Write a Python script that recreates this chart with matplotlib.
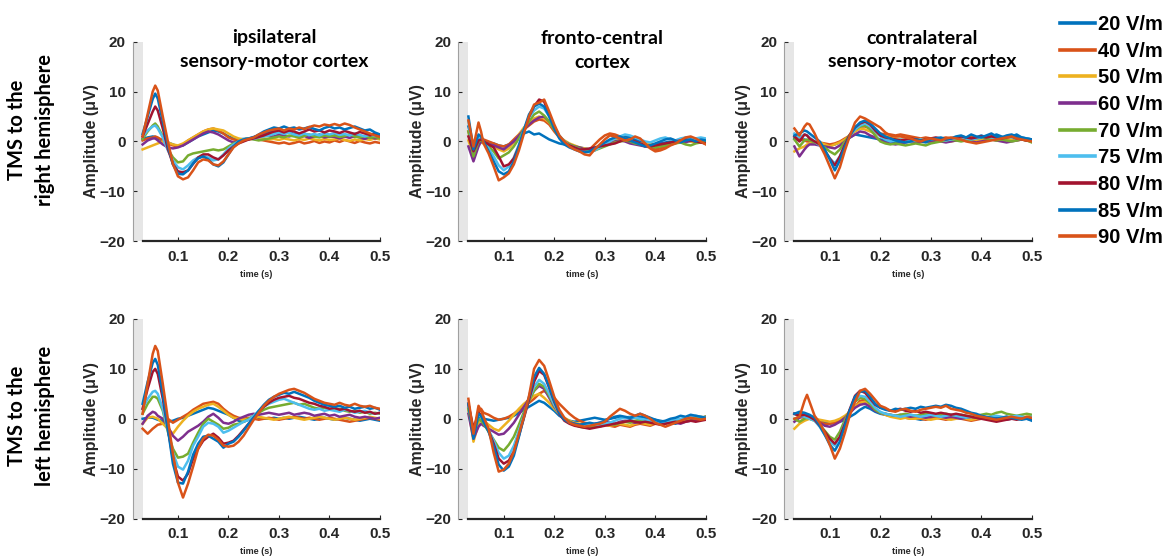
import numpy as np
import matplotlib
matplotlib.use('Agg')
import matplotlib.pyplot as plt

# time samples (s)
t = [0.03, 0.04, 0.05, 0.055, 0.06, 0.07, 0.08, 0.09, 0.10,
     0.11, 0.12, 0.13, 0.14, 0.15, 0.16, 0.17, 0.18, 0.19, 0.20,
     0.21, 0.22, 0.23, 0.24, 0.25, 0.26, 0.27, 0.28, 0.29, 0.30,
     0.31, 0.32, 0.33, 0.34, 0.35, 0.36, 0.37, 0.38, 0.39, 0.40,
     0.41, 0.42, 0.43, 0.44, 0.45, 0.46, 0.47, 0.48, 0.49, 0.50]

labels = ['20 V/m', '40 V/m', '50 V/m', '60 V/m', '70 V/m', '75 V/m', '80 V/m', '85 V/m', '90 V/m']
colors = ['#0072BD', '#D95319', '#EDB120', '#7E2F8E', '#77AC30', '#4DBEEE', '#A2142F', '#0072BD', '#D95319']

col_titles = ['ipsilateral\nsensory-motor cortex', 'fronto-central\ncortex', 'contralateral\nsensory-motor cortex']
row_titles = ['TMS to the\nright hemisphere', 'TMS to the\nleft hemisphere']

# one row per intensity, 20 ... 90 V/m (amplitude in uV)
ipsi_rh = [
    [0.5, 0.8, 1.0, 0.9, 0.6, 0.2, -0.2, -0.6, -1.0, -0.8, -0.2, 0.4, 1.0, 1.4, 1.8, 2.2, 2.0, 1.6, 1.0,
     0.6, 0.4, 0.5, 0.6, 0.9, 1.2, 1.5, 1.8, 2.0, 1.8, 1.6, 1.9, 1.5, 1.3, 1.6, 1.2, 1.0, 1.4, 1.1, 0.9,
     1.2, 1.5, 1.0, 1.3, 0.9, 1.2, 0.8, 1.1, 0.7, 0.9],
    [0.2, 0.6, 0.8, 1.0, 0.8, 0.2, -0.4, -0.8, -1.0, -0.6, 0.2, 0.8, 1.4, 2.0, 2.4, 2.6, 2.2, 1.6, 0.8,
     0.4, 0.2, 0.4, 0.6, 0.5, 0.4, 0.2, 0.0, -0.2, -0.4, -0.2, -0.5, -0.3, 0.0, -0.4, -0.2, 0.1, -0.3, 0.0, -0.2,
     0.2, -0.1, 0.3, 0.0, -0.3, 0.1, -0.2, -0.4, -0.1, -0.3],
    [-1.6, -1.2, -0.8, -0.6, -0.4, 0.0, -0.2, -0.6, -0.8, -0.4, 0.2, 0.8, 1.4, 2.0, 2.4, 2.6, 2.4, 2.2, 1.6,
     1.0, 0.6, 0.4, 0.4, 0.6, 0.8, 0.6, 0.4, 0.5, 0.3, 0.6, 0.4, 0.2, 0.5, 0.3, 0.6, 0.4, 0.2, 0.5, 0.3,
     0.4, 0.6, 0.3, 0.1, 0.4, 0.2, 0.5, 0.3, 0.6, 0.4],
    [-0.6, 0.2, 0.6, 0.6, 0.2, -0.6, -1.2, -1.4, -1.2, -0.8, -0.2, 0.4, 1.0, 1.6, 2.0, 1.8, 1.4, 0.8, 0.2,
     -0.2, 0.0, 0.2, 0.4, 0.8, 1.2, 1.4, 1.2, 1.0, 1.4, 1.2, 1.0, 1.3, 0.8, 1.1, 0.7, 1.0, 1.2, 0.8, 1.0,
     0.9, 0.6, 1.0, 0.7, 1.1, 0.8, 0.5, 0.9, 0.6, 0.8],
    [0.5, 2.0, 3.2, 3.6, 3.0, 1.0, -1.5, -3.2, -4.2, -4.0, -2.8, -2.4, -2.2, -2.0, -1.8, -1.6, -1.8, -1.6, -1.0,
     -0.4, 0.0, 0.4, 0.6, 0.4, 0.2, 0.4, 0.6, 0.8, 1.0, 0.8, 1.2, 1.0, 0.8, 1.1, 1.4, 1.0, 0.8, 1.2, 1.0,
     1.2, 0.9, 1.1, 1.4, 1.0, 0.8, 1.1, 0.7, 0.9, 0.6],
    [1.0, 2.2, 3.0, 3.2, 2.6, 0.8, -1.8, -3.8, -5.2, -5.6, -4.8, -3.8, -3.2, -3.0, -3.2, -3.8, -3.6, -2.6, -1.4,
     -0.6, 0.0, 0.4, 0.6, 0.5, 0.8, 1.0, 1.2, 1.5, 1.8, 1.5, 1.8, 1.4, 1.2, 1.6, 1.3, 1.5, 1.2, 1.6, 1.4,
     1.7, 1.3, 1.5, 1.2, 1.6, 1.3, 1.0, 1.4, 1.1, 1.3],
    [1.0, 3.5, 6.0, 7.0, 6.2, 2.6, -1.5, -4.5, -6.0, -6.2, -5.8, -4.5, -3.2, -2.6, -2.6, -3.2, -3.6, -2.8, -1.8,
     -1.0, -0.4, 0.0, 0.4, 0.6, 0.9, 1.2, 1.6, 2.0, 2.2, 1.8, 2.2, 2.0, 1.6, 2.0, 2.4, 2.0, 2.2, 1.8, 2.2,
     2.0, 1.7, 2.1, 1.8, 1.5, 1.9, 1.6, 1.3, 1.6, 1.2],
    [1.5, 5.0, 8.5, 9.6, 8.6, 4.0, -0.8, -4.6, -6.5, -6.6, -5.8, -4.4, -3.4, -3.0, -3.6, -4.6, -5.0, -4.2, -2.6,
     -1.0, 0.0, 0.4, 0.6, 0.8, 1.4, 2.0, 2.4, 2.8, 2.6, 3.0, 2.6, 2.8, 2.4, 2.6, 2.9, 2.5, 2.2, 2.7, 3.0,
     2.6, 2.8, 2.4, 2.7, 3.0, 2.6, 2.2, 2.4, 1.8, 1.4],
    [1.0, 5.5, 10.0, 11.2, 10.2, 5.0, 0.0, -4.5, -7.0, -7.6, -7.2, -5.8, -4.2, -3.6, -3.8, -4.6, -4.8, -4.0, -2.6,
     -1.2, -0.4, 0.2, 0.5, 0.8, 1.4, 1.8, 2.2, 2.4, 2.6, 2.2, 2.6, 2.4, 2.8, 2.5, 2.9, 3.2, 3.0, 3.4, 3.2,
     3.5, 3.2, 3.6, 3.3, 2.8, 2.4, 2.0, 1.6, 1.2, 0.9],
]

fronto_rh = [
    [3.0, -0.8, 0.4, 0.2, 0.0, -0.2, -0.4, -0.8, -1.0, -0.6, 0.0, 0.8, 1.6, 2.0, 1.4, 1.6, 1.0, 0.4, 0.0,
     -0.4, -0.6, -0.8, -1.0, -1.2, -1.4, -1.6, -1.4, -1.0, -0.6, -0.2, 0.2, 0.6, 1.0, 0.8, 0.4, 0.0, -0.4, -0.8, -0.6,
     -0.4, -0.2, 0.0, 0.2, 0.4, 0.2, 0.0, 0.3, 0.1, 0.0],
    [2.0, -1.0, 1.0, 0.8, 0.4, 0.0, -0.4, -0.8, -1.0, -0.6, 0.4, 1.4, 2.4, 3.2, 4.0, 4.4, 4.2, 3.4, 2.0,
     0.8, 0.0, -0.6, -1.0, -1.4, -1.8, -1.6, -0.6, 0.4, 1.2, 1.6, 1.4, 1.0, 0.6, 0.2, -0.2, -0.6, -1.0, -1.2, -1.6,
     -1.4, -1.0, -0.6, -0.2, 0.2, 0.6, 0.8, 0.4, 0.0, -0.2],
    [0.2, -2.8, 0.0, -0.2, -0.4, -0.6, -1.0, -1.6, -2.0, -1.4, -0.2, 1.4, 2.8, 3.8, 4.6, 5.0, 4.6, 3.8, 2.4,
     1.0, 0.2, -0.4, -0.8, -1.2, -1.4, -1.6, -1.4, -1.0, -0.6, -0.2, 0.2, 0.4, 0.2, 0.0, -0.2, -0.4, -0.6, -0.4, -0.6,
     -0.8, -0.6, -0.4, -0.2, 0.0, 0.2, 0.0, -0.2, 0.0, -0.2],
    [-1.0, -4.0, -1.0, 0.0, -0.2, -0.6, -0.8, -1.2, -1.6, -0.8, 0.0, 1.2, 2.4, 3.4, 4.2, 4.8, 5.0, 4.0, 2.4,
     1.0, 0.0, -0.6, -1.0, -1.2, -1.6, -1.8, -1.6, -1.2, -0.8, -0.4, 0.0, 0.2, 0.0, -0.4, -0.6, -0.8, -1.0, -0.8, -0.6,
     -0.4, -0.6, -0.4, -0.2, 0.0, -0.2, 0.2, 0.0, -0.2, -0.4],
    [2.0, -3.0, 0.0, 0.2, -0.2, -1.0, -2.0, -3.4, -2.8, -2.2, -1.0, 0.6, 2.4, 4.0, 5.4, 6.0, 5.2, 4.0, 2.4,
     1.0, 0.0, -0.6, -1.0, -1.4, -1.8, -2.0, -1.8, -1.4, -1.0, -0.6, -0.2, 0.0, 0.2, 0.0, -0.4, -0.6, -0.8, -1.0, -1.2,
     -1.0, -0.8, -0.6, -0.4, -0.2, -0.6, -0.8, -0.4, -0.2, 0.0],
    [4.0, -2.0, 1.0, 0.6, 0.0, -1.4, -3.0, -4.8, -5.8, -5.0, -3.2, -0.6, 2.4, 4.8, 6.2, 7.0, 6.6, 5.0, 3.0,
     1.2, 0.0, -0.8, -1.2, -1.6, -2.0, -2.2, -1.8, -1.2, -0.6, 0.0, 0.6, 1.0, 1.4, 1.2, 0.8, 0.4, 0.0, -0.2, 0.2,
     0.6, 0.8, 0.4, 0.2, 0.6, 0.8, 0.4, 0.6, 0.8, 0.6],
    [1.0, -2.0, 0.2, 0.4, 0.0, -0.6, -1.2, -3.0, -5.0, -4.6, -3.4, -1.0, 2.0, 5.0, 7.0, 8.4, 8.0, 5.4, 2.8,
     1.0, -0.2, -0.8, -1.2, -1.6, -1.6, -1.4, -1.2, -1.0, -0.8, -0.6, -0.4, 0.0, 0.4, 0.2, 0.0, -0.4, -0.8, -1.0, -0.8,
     -0.6, -0.4, -0.2, 0.0, 0.2, 0.4, 0.2, 0.0, -0.2, -0.4],
    [5.0, -1.6, 1.4, 1.0, 0.0, -2.0, -4.0, -6.0, -6.6, -6.0, -4.0, -1.0, 2.4, 5.4, 7.0, 7.6, 7.0, 5.0, 2.6,
     0.6, -0.6, -1.2, -1.6, -2.0, -2.2, -2.0, -1.4, -0.8, -0.2, 0.4, 0.8, 1.0, 0.6, 0.2, -0.2, -0.6, -1.0, -0.8, -0.4,
     0.0, 0.4, 0.6, 0.2, -0.2, 0.2, 0.4, 0.0, 0.4, 0.2],
    [4.2, -1.0, 3.8, 2.0, -0.4, -2.4, -5.0, -7.8, -7.2, -6.4, -4.6, -1.8, 1.6, 5.0, 7.4, 7.8, 8.4, 6.0, 3.4,
     1.2, 0.0, -1.0, -1.6, -2.0, -2.6, -2.8, -1.6, -0.6, 0.4, 1.2, 1.0, 0.6, 0.2, 0.4, 1.0, 0.6, -0.4, -1.4, -2.0,
     -1.8, -1.4, -0.8, -0.4, 0.2, 0.8, 1.0, 0.6, 0.0, -0.6],
]

contra_rh = [
    [0.6, 0.2, 0.4, 0.2, 0.0, -0.2, -0.4, -0.6, -0.8, -0.6, -0.2, 0.2, 0.8, 1.4, 1.2, 1.0, 0.8, 0.6, 0.4,
     0.2, 0.0, -0.2, 0.0, 0.2, 0.4, 0.2, 0.0, -0.2, 0.0, 0.2, 0.4, 0.2, 0.6, 0.4, 0.8, 0.6, 1.0, 0.8, 1.2,
     0.8, 1.0, 1.4, 1.0, 0.6, 1.0, 1.4, 0.8, 0.6, 0.4],
    [1.0, 0.6, 0.2, 0.0, 0.0, -0.2, -0.2, -0.4, -0.6, -0.4, 0.0, 0.6, 1.2, 2.2, 3.0, 3.0, 2.6, 2.0, 1.6,
     1.4, 1.4, 1.2, 1.4, 1.2, 1.0, 0.8, 0.6, 0.8, 0.6, 0.4, 0.6, 0.8, 0.6, 0.4, 0.6, 0.8, 1.0, 0.8, 0.6,
     0.8, 1.0, 0.8, 0.6, 0.4, 0.6, 0.8, 0.6, 0.4, 0.2],
    [-2.0, -1.4, -1.0, -0.6, -0.4, 0.0, -0.2, -0.6, -1.0, -0.6, -0.2, 0.4, 1.2, 2.0, 2.6, 2.4, 2.0, 1.6, 1.2,
     1.0, 0.8, 0.6, 0.4, 0.2, 0.0, 0.2, 0.4, 0.2, 0.0, 0.2, 0.4, 0.2, 0.0, 0.2, 0.4, 0.6, 0.4, 0.2, 0.4,
     0.6, 0.4, 0.2, 0.4, 0.6, 0.4, 0.2, 0.4, 0.2, 0.0],
    [-1.0, -3.0, -1.6, -1.0, -0.6, -0.6, -0.8, -1.0, -1.2, -1.4, -0.8, 0.0, 0.8, 1.4, 2.0, 1.8, 1.2, 0.8, 0.2,
     -0.2, -0.4, -0.6, -0.4, -0.2, 0.0, -0.2, 0.0, 0.2, 0.0, 0.2, 0.0, -0.2, 0.0, 0.2, 0.4, 0.2, 0.0, -0.2, 0.0,
     0.2, 0.4, 0.2, 0.0, -0.2, 0.0, 0.2, 0.4, 0.2, 0.0],
    [0.4, -1.0, 0.2, 0.4, 0.2, -0.2, -0.6, -1.2, -2.0, -2.6, -1.6, 0.0, 1.4, 2.4, 3.0, 3.2, 2.4, 1.2, 0.0,
     -0.4, -0.6, -0.4, -0.6, -0.8, -0.6, -0.4, -0.6, -0.8, -0.4, -0.2, 0.0, 0.2, 0.4, 0.2, 0.0, 0.2, 0.4, 0.6, 0.8,
     0.6, 0.4, 0.2, 0.4, 0.2, 0.0, 0.2, 0.4, 0.2, -0.2],
    [1.6, 0.8, 1.4, 1.2, 0.8, 0.0, -0.8, -2.0, -3.4, -4.4, -3.0, -0.6, 1.2, 2.4, 3.2, 3.6, 3.0, 2.0, 1.0,
     0.4, 0.0, 0.2, 0.4, 0.2, 0.0, 0.2, 0.4, 0.2, 0.4, 0.6, 0.4, 0.2, 0.4, 0.6, 0.8, 0.6, 0.4, 0.6, 0.8,
     1.0, 0.8, 0.6, 0.8, 1.0, 0.8, 0.6, 0.4, 0.6, 0.4],
    [1.0, 0.0, 1.4, 1.2, 0.6, 0.0, -0.6, -1.8, -3.4, -4.8, -3.0, -0.6, 1.4, 2.8, 3.6, 4.0, 3.4, 2.2, 1.2,
     0.8, 0.6, 0.4, 0.2, 0.4, 0.6, 0.4, 0.2, 0.4, 0.6, 0.8, 0.6, 0.4, 0.6, 0.8, 1.0, 0.8, 0.6, 0.8, 1.0,
     0.8, 1.0, 0.8, 0.6, 0.8, 1.0, 0.6, 0.4, 0.2, 0.4],
    [1.2, 1.6, 2.2, 2.0, 1.6, 0.8, 0.0, -1.6, -3.6, -5.8, -3.8, -1.0, 1.2, 2.8, 3.8, 4.2, 3.6, 2.6, 1.6,
     1.0, 0.6, 0.2, 0.0, -0.2, 0.0, 0.4, 0.2, 0.0, 0.4, 0.6, 0.8, 0.4, 0.6, 1.0, 1.2, 0.8, 1.4, 1.0, 0.8,
     1.2, 1.6, 1.0, 0.8, 1.2, 1.4, 1.0, 0.8, 0.6, 0.4],
    [2.6, 1.2, 3.0, 3.6, 3.4, 1.6, -0.6, -2.6, -5.0, -7.4, -5.2, -1.8, 1.2, 3.8, 5.0, 4.6, 4.0, 3.4, 2.8,
     1.8, 1.2, 1.0, 1.0, 0.8, 0.6, 0.2, 0.0, 0.4, 0.6, 0.4, 0.2, 0.6, 0.8, 0.6, 0.4, 0.0, -0.2, -0.4, -0.2,
     0.0, 0.2, 0.4, 0.6, 0.8, 1.0, 0.6, 0.4, 0.2, 0.0],
]

ipsi_lh = [
    [0.0, 0.2, 0.2, 0.0, -0.2, -0.4, -0.6, -0.4, 0.0, 0.2, 0.6, 1.0, 1.4, 1.8, 2.2, 2.0, 1.6, 1.2, 0.8,
     0.2, -0.4, -0.6, -0.2, 0.0, 0.2, 0.0, 0.0, 0.2, 0.0, 0.2, 0.0, 0.2, 0.4, 0.2, 0.0, -0.2, 0.0, 0.2, 0.0,
     -0.2, 0.0, 0.2, 0.0, -0.2, -0.4, -0.2, 0.0, -0.2, -0.4],
    [-2.0, -3.0, -2.0, -1.6, -1.2, -1.0, 0.0, -0.8, -0.2, 0.4, 1.0, 1.8, 2.4, 3.0, 3.2, 3.4, 3.0, 2.0, 1.2,
     0.6, 0.2, 0.0, 0.2, 0.0, -0.2, 0.0, 0.2, 0.0, -0.2, 0.0, 0.2, 0.4, 0.2, 0.0, 0.2, 0.0, -0.2, 0.0, 0.2,
     0.0, -0.2, -0.4, -0.6, -0.4, -0.2, 0.0, 0.2, 0.0, -0.2],
    [-1.0, 0.2, 0.4, 0.2, 0.0, -1.0, -2.0, -3.0, -1.6, -0.4, 0.6, 1.4, 2.0, 2.4, 2.8, 3.0, 2.4, 1.6, 0.8,
     0.2, 0.0, -0.2, 0.0, 0.2, 0.4, 0.2, 0.0, -0.2, 0.0, 0.2, 0.4, 0.2, 0.0, -0.2, 0.0, 0.2, 0.4, 0.2, 0.0,
     -0.2, 0.0, 0.2, 0.0, -0.2, 0.0, 0.2, 0.4, 0.2, 0.0],
    [-1.0, 0.6, 1.4, 1.2, 0.6, 0.0, -1.6, -3.4, -4.4, -3.6, -2.6, -2.0, -1.4, -0.6, 0.4, 1.0, 0.2, -0.8, -1.0,
     -0.6, 0.0, 0.4, 0.8, 1.0, 0.8, 1.0, 1.2, 1.0, 0.8, 1.0, 1.2, 0.8, 1.0, 1.2, 1.0, 0.6, 0.8, 1.0, 0.6,
     0.8, 0.4, 0.6, 0.8, 0.4, 0.2, 0.4, 0.2, 0.0, 0.2],
    [1.0, 3.0, 4.4, 4.4, 4.0, 1.6, -2.6, -6.0, -7.8, -7.6, -7.0, -4.8, -2.8, -1.0, 0.0, -0.6, -1.2, -2.0, -1.8,
     -1.2, -1.0, -0.6, 0.0, 0.6, 1.2, 1.8, 2.2, 2.4, 2.6, 2.8, 3.0, 3.2, 2.8, 3.0, 2.6, 2.2, 2.0, 2.2, 2.0,
     1.8, 2.0, 1.6, 1.4, 1.6, 1.2, 1.4, 1.0, 1.2, 1.0],
    [2.0, 4.0, 5.4, 5.6, 5.0, 2.0, -2.4, -6.8, -9.6, -10.2, -8.4, -5.4, -3.6, -1.6, -0.8, -1.0, -1.6, -2.8, -2.4,
     -1.8, -1.2, -0.6, -0.2, 0.6, 1.6, 2.4, 3.0, 3.4, 3.8, 4.0, 3.6, 3.2, 2.8, 2.4, 2.0, 1.8, 2.0, 1.6, 1.8,
     1.6, 1.4, 1.8, 1.6, 1.2, 1.4, 1.6, 1.2, 1.0, 1.2],
    [2.0, 6.0, 9.4, 10.0, 9.0, 4.0, -2.0, -8.0, -11.6, -12.4, -11.0, -8.0, -6.0, -4.4, -3.6, -3.0, -3.8, -5.0, -4.8,
     -4.4, -3.4, -2.2, -1.0, 0.2, 1.4, 2.4, 3.2, 3.8, 4.2, 4.4, 4.6, 4.2, 4.0, 3.6, 3.2, 3.0, 2.6, 2.4, 2.0,
     2.2, 1.8, 2.0, 1.6, 1.4, 1.6, 1.2, 1.4, 1.0, 1.2],
    [3.0, 7.4, 11.2, 12.0, 10.8, 5.0, -2.0, -9.0, -12.8, -13.0, -10.6, -7.2, -5.0, -3.6, -3.4, -4.0, -4.6, -5.8, -5.0,
     -4.6, -3.6, -2.4, -1.0, 0.2, 1.6, 2.8, 3.8, 4.4, 4.8, 5.2, 5.0, 5.4, 5.0, 4.6, 4.2, 3.6, 3.2, 2.8, 2.6,
     2.4, 2.6, 2.2, 2.4, 2.0, 2.2, 2.4, 2.0, 2.2, 1.8],
    [1.0, 7.0, 13.0, 14.6, 13.6, 7.0, 0.0, -7.0, -12.8, -15.8, -13.0, -9.6, -6.0, -4.0, -3.2, -3.4, -4.2, -5.4, -5.6,
     -5.4, -4.6, -3.4, -1.8, -0.2, 1.2, 2.6, 3.6, 4.4, 5.0, 5.4, 5.8, 6.0, 5.6, 5.2, 4.6, 4.0, 3.6, 3.2, 3.0,
     2.8, 3.2, 2.8, 2.6, 3.0, 2.6, 2.4, 2.6, 2.2, 2.0],
]

fronto_lh = [
    [2.0, -2.0, 0.0, 0.2, 0.0, -0.2, -0.4, -0.2, 0.0, 0.2, 0.6, 1.2, 1.8, 2.4, 3.0, 3.6, 3.2, 2.4, 1.6,
     0.6, 0.0, -0.4, -0.6, -0.4, -0.2, 0.0, 0.2, 0.0, -0.2, 0.0, 0.2, 0.4, 0.2, 0.0, 0.2, 0.4, 0.2, 0.0, -0.2,
     -0.4, -0.6, -0.8, -1.0, -0.6, -0.4, -0.2, 0.0, 0.2, 0.4],
    [3.0, -3.0, 1.4, 2.0, 1.2, 0.8, 0.2, -0.2, 0.0, 0.4, 1.0, 1.8, 2.6, 3.2, 4.0, 5.0, 5.6, 4.8, 4.2,
     3.0, 2.0, 1.0, 0.2, -0.4, -0.8, -1.0, -1.2, -1.4, -1.2, -1.4, -1.6, -1.2, -1.4, -1.6, -1.2, -1.0, -1.2, -1.4, -1.0,
     -0.8, -1.0, -0.6, -0.4, -0.6, -0.2, 0.0, -0.2, 0.2, 0.4],
    [2.0, -4.6, -1.0, 0.0, -0.4, -1.2, -2.0, -2.4, -1.4, -0.4, 0.8, 2.0, 3.0, 3.8, 4.6, 5.0, 4.2, 3.2, 2.0,
     1.0, 0.2, -0.4, -0.8, -1.0, -1.2, -1.4, -1.2, -1.0, -1.2, -1.4, -1.2, -1.0, -1.2, -1.4, -1.0, -0.8, -1.0, -1.2, -0.8,
     -0.6, -0.8, -1.0, -0.6, -0.4, -0.2, 0.0, 0.2, 0.4, 0.2],
    [1.0, -4.0, -1.6, -1.0, -1.4, -2.0, -2.6, -3.2, -3.0, -2.0, -0.8, 0.8, 2.4, 4.0, 5.6, 6.6, 6.0, 4.2, 2.4,
     1.0, 0.0, -0.6, -1.0, -1.2, -1.4, -1.2, -1.0, -0.8, -0.6, -0.8, -1.0, -0.6, -0.4, -0.6, -0.8, -0.6, -0.4, -0.6, -0.8,
     -1.0, -0.8, -0.6, -0.8, -1.0, -0.6, -0.4, -0.2, 0.0, -0.2],
    [2.0, -3.0, 0.0, -0.4, -1.0, -2.6, -4.2, -5.8, -6.4, -5.2, -3.6, -1.2, 1.4, 3.6, 5.6, 7.0, 6.4, 4.6, 2.6,
     1.0, 0.0, -0.6, -1.2, -1.6, -1.8, -1.6, -1.4, -1.6, -1.2, -1.0, -1.2, -0.8, -0.6, -0.8, -0.4, -0.2, -0.4, -0.6, -0.4,
     -0.6, -0.8, -0.6, -0.4, -0.2, 0.0, 0.2, 0.0, 0.2, 0.4],
    [3.0, -2.6, 1.0, 0.4, -0.2, -2.2, -4.4, -6.8, -8.0, -7.4, -5.4, -2.4, 0.8, 3.8, 6.4, 7.8, 7.0, 5.0, 2.8,
     1.0, -0.2, -0.8, -1.2, -1.4, -1.2, -1.0, -1.2, -1.4, -1.0, -0.8, -0.4, 0.0, 0.2, 0.4, 0.2, 0.0, -0.2, -0.4, -0.6,
     -0.8, -0.6, -0.4, -0.2, 0.0, 0.2, 0.4, 0.6, 0.4, 0.2],
    [3.0, -2.0, 1.2, 0.8, 0.0, -2.4, -5.0, -8.0, -9.0, -8.4, -6.6, -3.4, 0.2, 3.8, 7.4, 9.6, 8.8, 6.2, 3.4,
     1.0, -0.4, -1.0, -1.4, -1.6, -1.8, -2.0, -1.8, -1.6, -1.4, -1.2, -1.0, -0.8, -0.6, -0.4, -0.6, -0.8, -0.6, -0.8, -1.0,
     -1.2, -1.0, -0.8, -0.6, -0.8, -0.6, -0.4, -0.6, -0.4, -0.2],
    [3.0, -4.0, 1.0, 0.6, -0.6, -2.6, -5.6, -9.2, -10.4, -9.6, -7.4, -3.6, 0.4, 4.4, 8.4, 10.2, 9.0, 6.4, 3.6,
     1.2, -0.2, -0.8, -1.0, -1.2, -1.0, -0.8, -1.0, -0.8, -0.4, 0.0, 0.4, 0.6, 0.4, 0.2, 0.6, 1.0, 0.6, 0.2, -0.2,
     -0.6, -0.4, 0.0, 0.2, 0.6, 0.4, 0.8, 0.6, 0.4, 0.2],
    [4.0, -3.0, 2.6, 1.6, 0.4, -2.0, -6.8, -10.6, -10.2, -9.0, -6.6, -3.0, 0.4, 4.6, 10.0, 11.8, 10.6, 7.6, 4.4,
     1.8, 0.2, -0.8, -1.2, -1.4, -1.6, -1.4, -1.2, -1.0, -0.6, 0.4, 1.2, 2.0, 1.6, 1.0, 0.6, 1.0, 0.6, 0.0, -0.8,
     -1.2, -1.6, -1.2, -0.8, -0.4, 0.0, 0.2, 0.0, -0.2, 0.0],
]

contra_lh = [
    [1.0, 1.0, 0.8, 0.6, 0.4, 0.0, -0.4, -0.8, -1.0, -0.8, -0.6, -0.2, 0.4, 1.0, 1.8, 2.4, 2.0, 1.4, 1.0,
     0.8, 0.6, 0.4, 0.2, 0.4, 0.2, 0.0, -0.2, 0.0, 0.2, 0.4, 0.2, 0.0, 0.2, 0.4, 0.2, 0.0, -0.2, 0.0, 0.2,
     0.0, -0.2, 0.0, 0.2, 0.4, 0.2, 0.0, 0.2, 0.0, -0.2],
    [1.0, 0.4, 0.2, 0.0, 0.0, -0.2, -0.6, -1.0, -1.0, -0.8, -0.4, 0.2, 1.2, 2.4, 3.6, 3.8, 2.8, 2.0, 1.2,
     0.8, 0.6, 0.4, 0.4, 0.2, 0.0, 0.2, 0.0, -0.2, 0.0, 0.2, 0.0, -0.2, 0.0, 0.2, 0.0, -0.2, -0.4, -0.2, 0.0,
     0.2, 0.0, -0.2, 0.0, 0.2, 0.4, 0.2, 0.0, 0.2, 0.0],
    [-2.0, -1.0, -0.4, -0.2, 0.0, 0.0, -0.2, -0.4, -0.6, -0.4, 0.0, 0.6, 1.4, 2.4, 3.2, 3.4, 2.8, 2.0, 1.2,
     0.8, 0.4, 0.2, 0.0, 0.2, 0.0, 0.0, 0.2, 0.0, -0.2, 0.0, 0.2, 0.0, -0.2, 0.0, 0.2, 0.0, -0.2, 0.0, 0.2,
     0.0, 0.2, 0.4, 0.2, 0.0, 0.2, 0.4, 0.2, 0.4, 0.6],
    [-0.6, 0.2, 0.6, 0.6, 0.4, 0.0, -0.8, -1.4, -1.6, -1.2, -0.6, 0.2, 1.2, 2.2, 2.8, 3.0, 2.4, 1.6, 1.2,
     1.0, 0.8, 0.6, 0.8, 0.6, 0.4, 0.6, 0.4, 0.2, 0.4, 0.6, 0.4, 0.2, 0.4, 0.2, 0.0, 0.2, 0.4, 0.2, 0.0,
     0.2, 0.4, 0.2, 0.0, -0.2, 0.0, 0.2, 0.4, 0.2, 0.0],
    [0.0, -0.6, 0.0, 0.2, 0.0, -0.4, -1.2, -2.4, -3.6, -4.2, -2.6, -0.2, 1.8, 3.4, 4.2, 4.0, 3.0, 1.8, 1.2,
     1.0, 0.8, 0.6, 0.8, 1.0, 0.8, 0.6, 0.8, 1.0, 0.8, 0.6, 0.8, 1.0, 0.8, 0.6, 0.8, 0.6, 0.4, 0.6, 0.8,
     1.0, 0.8, 1.2, 1.4, 1.0, 0.8, 0.6, 0.8, 1.0, 0.8],
    [1.0, 0.6, 0.4, 0.2, 0.0, -0.4, -1.6, -3.2, -4.6, -5.4, -3.6, -0.8, 1.8, 3.8, 4.6, 4.4, 3.4, 2.2, 1.4,
     1.0, 0.8, 0.6, 0.4, 0.6, 0.8, 0.6, 0.4, 0.6, 0.8, 0.6, 0.4, 0.6, 0.8, 0.6, 0.4, 0.2, 0.4, 0.6, 0.4,
     0.2, 0.4, 0.6, 0.4, 0.2, 0.4, 0.6, 0.4, 0.2, 0.4],
    [1.0, 0.6, 0.8, 0.6, 0.4, -0.2, -1.4, -2.6, -4.0, -5.0, -3.6, -1.0, 2.0, 4.6, 5.6, 5.2, 4.0, 2.8, 2.2,
     2.0, 1.6, 1.8, 2.0, 1.6, 1.4, 1.6, 1.2, 1.4, 1.2, 1.0, 1.2, 1.0, 0.8, 1.0, 0.8, 0.6, 0.4, 0.2, 0.0,
     -0.2, -0.4, -0.6, -0.4, -0.2, 0.0, -0.2, 0.0, 0.2, 0.0],
    [1.0, 1.4, 1.2, 1.0, 0.8, 0.2, -1.4, -3.2, -5.2, -6.4, -4.6, -1.4, 1.8, 4.4, 5.4, 5.6, 4.4, 3.0, 2.2,
     1.8, 1.6, 2.0, 1.8, 2.0, 2.2, 2.0, 2.4, 2.2, 2.4, 2.6, 2.4, 2.8, 2.6, 2.2, 2.0, 1.6, 1.2, 1.0, 0.6,
     0.4, 0.2, 0.0, 0.2, 0.4, 0.2, 0.0, -0.2, 0.0, -0.4],
    [0.0, 0.4, 3.6, 4.8, 3.4, 0.6, -0.8, -2.8, -5.2, -8.0, -6.0, -2.8, 0.8, 3.4, 5.6, 6.0, 5.0, 3.8, 2.6,
     2.2, 1.6, 1.4, 1.8, 2.0, 1.6, 1.4, 1.8, 2.0, 2.2, 2.4, 2.2, 2.6, 2.0, 1.8, 1.6, 1.2, 1.0, 0.6, 0.4,
     0.2, 0.0, -0.2, 0.0, 0.2, 0.4, 0.2, 0.0, 0.4, 0.2],
]

panels = [[ipsi_rh, fronto_rh, contra_rh], [ipsi_lh, fronto_lh, contra_lh]]

W, H = 1175, 556
fig = plt.figure(figsize=(W / 100, H / 100), dpi=100)
plt.rcParams['font.family'] = ['Liberation Sans', 'DejaVu Sans']

col_left = [132.5, 458.3, 784.3]
row_top = [41.7, 319.0]
ax_w, ax_h = 247.5, 199.5
title_x = [274, 602, 922]
dark = '#262626'

handles = None
for r in range(2):
    for c in range(3):
        ax = fig.add_axes([col_left[c] / W, 1 - (row_top[r] + ax_h) / H, ax_w / W, ax_h / H])
        ax.axvspan(0.01, 0.03, color='#e6e6e6', lw=0, zorder=0)
        lines = []
        for y, col, lab in zip(panels[r][c], colors, labels):
            ln, = ax.plot(t, y, color=col, lw=1.8, label=lab, solid_joinstyle='round')
            lines.append(ln)
        if handles is None:
            handles = lines
        ax.set_xlim(0.01, 0.5)
        ax.set_ylim(-20, 20)
        ax.set_xticks([0.1, 0.2, 0.3, 0.4, 0.5])
        ax.set_xticklabels(['0.1', '0.2', '0.3', '0.4', '0.5'])
        ax.set_yticks([-20, -10, 0, 10, 20])
        ax.tick_params(direction='in', length=3, width=0.8, colors=dark, labelsize=11)
        ax.tick_params(axis='x', pad=6)
        ax.tick_params(axis='y', pad=5)
        for lab in ax.get_xticklabels() + ax.get_yticklabels():
            lab.set_fontweight('bold')
        for s in ['top', 'right']:
            ax.spines[s].set_visible(False)
        ax.spines['left'].set_color('#a0a0a0')
        ax.spines['left'].set_linewidth(0.8)
        ax.spines['bottom'].set_bounds(0.03, 0.5)
        ax.spines['bottom'].set_color(dark)
        ax.spines['bottom'].set_linewidth(1.6)
        ax.set_ylabel('Amplitude (μV)', fontsize=11.5, fontweight='bold', color=dark, va='center')
        ax.yaxis.set_label_coords(-41 / ax_w, 0.5)
        ax.set_xlabel('time (s)', fontsize=6.5, fontweight='bold', color=dark, va='center')
        ax.xaxis.set_label_coords(0.5, -33 / ax_h)
        if r == 0:
            fig.text(title_x[c] / W, 1 - 50 / H, col_titles[c], ha='center', va='center',
                     fontsize=14, fontweight='bold', family=['Lato', 'DejaVu Sans'],
                     linespacing=1.5, color='black')

row_y = [130, 416]
for r in range(2):
    fig.text(31 / W, 1 - row_y[r] / H, row_titles[r], rotation=90, ha='center', va='center',
             fontsize=14.5, fontweight='bold', family=['Lato', 'DejaVu Sans'],
             linespacing=1.5, color='black')

leg = fig.legend(handles, labels, loc='upper left', bbox_to_anchor=(1060 / W, 1 - 15 / H),
                 frameon=False, borderpad=0, borderaxespad=0, handlelength=1.75,
                 handletextpad=0.12, labelspacing=0.38,
                 prop={'family': 'Liberation Sans', 'weight': 'bold', 'size': 14.5})
for ln in leg.get_lines():
    ln.set_linewidth(2.6)

fig.savefig('out.png', dpi=100)
